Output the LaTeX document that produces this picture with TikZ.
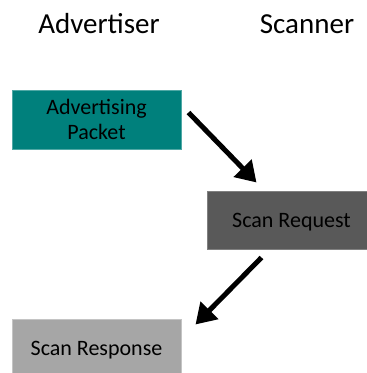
\documentclass[tikz,border=0pt]{standalone}
\usepackage{fontspec}
\setmainfont{Carlito}
\usetikzlibrary{arrows.meta}
\definecolor{teal1}{HTML}{00807C}
\definecolor{teal2}{HTML}{4FA8A5}
\definecolor{dgray}{HTML}{595959}
\definecolor{dgrayb}{HTML}{808080}
\definecolor{lgray}{HTML}{A6A6A6}
\definecolor{lgrayb}{HTML}{C4C4C4}
\tikzset{
  title/.style={font=\fontsize{29}{32}\selectfont, anchor=base, inner sep=0},
  packet/.style={minimum width=169pt, minimum height=59pt, inner sep=0,
    line width=1pt, align=center, text depth=0pt,
    font=\fontsize{22}{25}\selectfont},
  flow/.style={line width=5pt, -{Triangle[length=20pt, width=24pt]}}
}
\begin{document}
\begin{tikzpicture}[x=1pt, y=-1pt]
\useasboundingbox (0,0) rectangle (367,373);
\clip (0,0) rectangle (367,373);
\fill[white] (0,0) rectangle (367,373);

\node[title] (advt) at (99,33) {Advertiser};
\node[title] (scan) at (307,33) {Scanner};

\node[packet, fill=teal1, draw=teal2] (adv) at (96.5,119.5) {Advertising\\Packet};
\node[packet, fill=dgray, draw=dgrayb, minimum height=58pt] (req) at (291.5,220) {Scan Request};
\node[packet, fill=lgray, draw=lgrayb] (resp) at (96.5,348.5) {Scan Response};

\draw[flow] ([shift={(7,23)}]adv.north east) -- ([shift={(50,-8)}]req.north west);
\draw[flow] ([shift={(55,8)}]req.south west) -- ([shift={(14,6)}]resp.north east);
\end{tikzpicture}
\end{document}
